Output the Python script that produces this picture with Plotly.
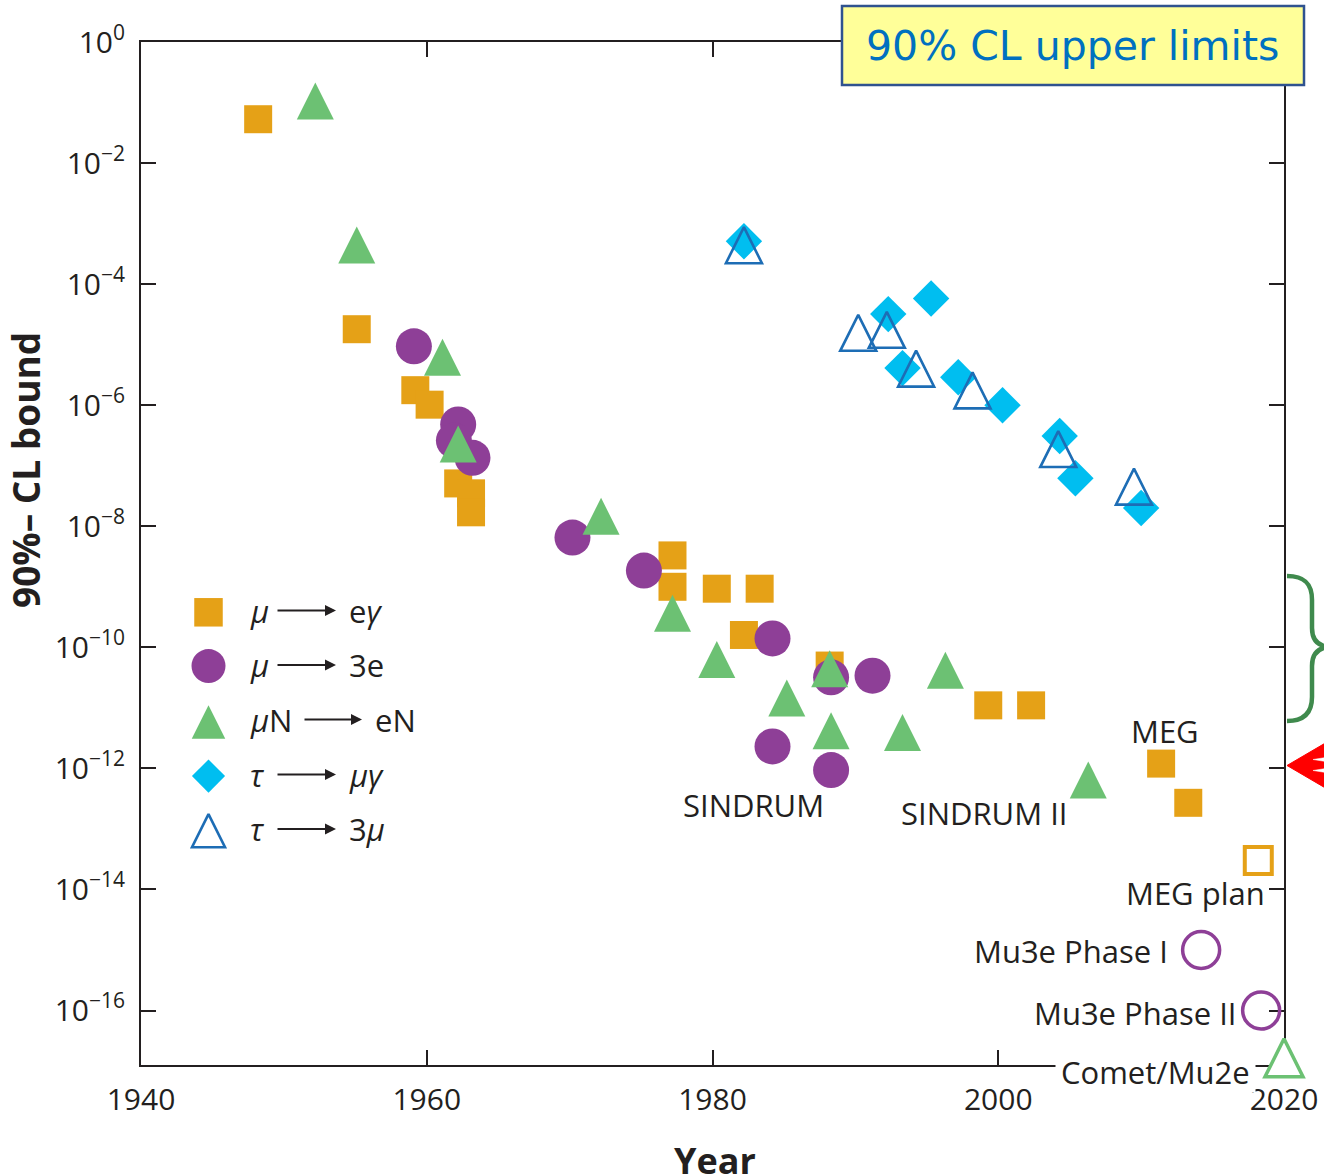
import plotly.graph_objects as go

# ---- measured 90% CL upper limits ----
# mu -> e gamma
mueg_year = [1948.2, 1955.1, 1959.2, 1960.2, 1962.2, 1963.1, 1963.1, 1977.2, 1977.2,
             1980.3, 1983.3, 1982.2, 1988.2, 1999.3, 2002.3, 2011.4, 2013.3]
mueg_bound = [5.3e-2, 1.8e-5, 1.77e-6, 1.02e-6, 5.1e-8, 3.5e-8, 1.7e-8, 3.3e-9, 1.0e-9,
              9.3e-10, 9.3e-10, 1.6e-10, 5.0e-11, 1.1e-11, 1.1e-11, 1.2e-12, 2.7e-13]

# mu -> 3e
mu3e_year = [1959.1, 1962.2, 1961.9, 1963.2, 1970.2, 1975.2, 1984.2, 1988.3, 1991.2,
             1984.2, 1988.3]
mu3e_bound = [9.4e-6, 4.8e-7, 2.6e-7, 1.35e-7, 6.5e-9, 1.85e-9, 1.4e-10, 3.2e-11, 3.4e-11,
              2.3e-12, 9.4e-13]

# mu N -> e N
muconv_year = [1952.2, 1955.1, 1961.1, 1962.2, 1972.2, 1977.2, 1980.3, 1988.2, 1996.3,
               1985.2, 1988.3, 1993.3, 2006.3]
muconv_bound = [8.4e-2, 3.5e-4, 4.9e-6, 1.8e-7, 1.16e-8, 2.9e-10, 5.0e-11, 3.5e-11, 3.3e-11,
                1.15e-11, 3.3e-12, 3.1e-12, 5.1e-13]

# tau -> mu gamma
taumg_year = [1982.2, 1992.3, 1995.3, 1993.3, 1997.2, 2000.3, 2004.3, 2005.4, 2010.0]
taumg_bound = [5.1e-4, 3.2e-5, 5.8e-5, 4.1e-6, 2.9e-6, 1.0e-6, 3.1e-7, 6.2e-8, 2.0e-8]

# tau -> 3 mu
tau3mu_year = [1982.2, 1990.2, 1992.2, 1994.25, 1998.2, 2004.2, 2009.5]
tau3mu_bound = [3.5e-4, 1.25e-5, 1.4e-5, 3.2e-6, 1.4e-6, 1.5e-7, 3.6e-8]

# ---- projected sensitivities ----
megplan_year, megplan_bound = [2018.2], [3.0e-14]
mu3e_phase1_year, mu3e_phase1_bound = [2014.2], [1.0e-15]
mu3e_phase2_year, mu3e_phase2_bound = [2018.4], [1.0e-16]
comet_year, comet_bound = [2020.0], [1.3e-17]

year_ticks = [1940, 1960, 1980, 2000, 2020]
bound_exponents = [0, -2, -4, -6, -8, -10, -12, -14, -16]
bound_ticks = [10.0 ** e for e in bound_exponents]
bound_ticktext = ["10<sup>%s</sup>" % (str(e).replace("-", "\u2212")) for e in bound_exponents]

legend_labels = [("<i>\u03bc</i>", "e<i>\u03b3</i>"),
                 ("<i>\u03bc</i>", "3e"),
                 ("<i>\u03bc</i>N", "eN"),
                 ("<i>\u03c4</i>", "<i>\u03bc\u03b3</i>"),
                 ("<i>\u03c4</i>", "3<i>\u03bc</i>")]

ORANGE = "#E5A117"
PURPLE = "#8E3F97"
GREEN = "#6CC173"
CYAN = "#00BEF0"
BLUE = "#1D6DB5"
INK = "#231F20"
FONT = "Open Sans"

# figure geometry (pixels)
W, H = 1324, 1176
ML, MR, MT, MB = 141, 40, 42, 111
PW, PH = W - ML - MR, H - MT - MB


def fx(px):
    return (px - ML) / PW


def fy(py):
    return (H - MB - py) / PH


def tri(size):
    # upright triangle, centred two thirds of the way down from the apex
    return dict(symbol="arrow-down", angle=180, standoff=size * 2.0 / 3.0, size=size)


fig = go.Figure()

fig.add_trace(go.Scatter(x=mueg_year, y=mueg_bound, mode="markers", name="mu->e gamma",
                         marker=dict(symbol="square", size=28, color=ORANGE, line=dict(width=0))))
fig.add_trace(go.Scatter(x=mu3e_year, y=mu3e_bound, mode="markers", name="mu->3e",
                         marker=dict(symbol="circle", size=36, color=PURPLE, line=dict(width=0))))
fig.add_trace(go.Scatter(x=muconv_year, y=muconv_bound, mode="markers", name="muN->eN",
                         marker=dict(**tri(37), color=GREEN, line=dict(width=0))))
fig.add_trace(go.Scatter(x=taumg_year, y=taumg_bound, mode="markers", name="tau->mu gamma",
                         marker=dict(symbol="diamond", size=28, color=CYAN, line=dict(width=0))))
fig.add_trace(go.Scatter(x=tau3mu_year, y=tau3mu_bound, mode="markers", name="tau->3mu",
                         marker=dict(**tri(36), color="rgba(0,0,0,0)",
                                     line=dict(width=2.6, color=BLUE))))

# projected sensitivities
fig.add_trace(go.Scatter(x=megplan_year, y=megplan_bound, mode="markers", cliponaxis=False,
                         marker=dict(symbol="square", size=27, color="white",
                                     line=dict(width=4, color=ORANGE))))
fig.add_trace(go.Scatter(x=mu3e_phase1_year + mu3e_phase2_year,
                         y=mu3e_phase1_bound + mu3e_phase2_bound, mode="markers", cliponaxis=False,
                         marker=dict(symbol="circle", size=37, color="rgba(0,0,0,0)",
                                     line=dict(width=3.5, color=PURPLE))))
fig.add_trace(go.Scatter(x=comet_year, y=comet_bound, mode="markers", cliponaxis=False,
                         marker=dict(**tri(38), color="white", line=dict(width=3.5, color=GREEN))))

# legend keys on an overlay axis spanning the plot area
legend_px = 208.5
legend_marker_py = [612.3, 666.1, 727.7, 776.1, 836.2]
legend_markers = [
    dict(symbol="square", size=28.5, color=ORANGE, line=dict(width=0)),
    dict(symbol="circle", size=34, color=PURPLE, line=dict(width=0)),
    dict(**tri(33.5), color=GREEN, line=dict(width=0)),
    dict(symbol="diamond", size=25.5, color=CYAN, line=dict(width=0)),
    dict(**tri(33), color="rgba(0,0,0,0)", line=dict(width=2.6, color=BLUE)),
]
for py, mk in zip(legend_marker_py, legend_markers):
    fig.add_trace(go.Scatter(x=[fx(legend_px)], y=[fy(py)], xaxis="x2", yaxis="y2",
                             mode="markers", marker=mk, showlegend=False, cliponaxis=False))

annotations = []
legend_text_py = [610.5, 665.0, 719.5, 774.5, 829.0]
for i, ((left, right), py) in enumerate(zip(legend_labels, legend_text_py)):
    wide = i == 2
    a0, a1, rx = (303, 362, 373) if wide else (276, 336, 347)
    annotations.append(dict(x=fx(248), y=fy(py), xref="paper", yref="paper", text=left,
                            showarrow=False, xanchor="left", yanchor="middle",
                            font=dict(family=FONT, size=31, color=INK)))
    annotations.append(dict(x=fx(a1), y=fy(py), xref="paper", yref="paper", text="",
                            showarrow=True, ax=a0 - a1, ay=0, arrowhead=2, arrowsize=1.1,
                            arrowwidth=2, arrowcolor=INK, standoff=0, startstandoff=0))
    annotations.append(dict(x=fx(rx), y=fy(py), xref="paper", yref="paper", text=right,
                            showarrow=False, xanchor="left", yanchor="middle",
                            font=dict(family=FONT, size=31, color=INK)))

# experiment labels
labels = [("SINDRUM", 753.8, 805), ("SINDRUM II", 983.6, 812.8), ("MEG", 1165, 730.5),
          ("MEG plan", 1195.8, 893), ("Mu3e Phase I", 1070.8, 951),
          ("Mu3e Phase II", 1135, 1013)]
for txt, px, py in labels:
    annotations.append(dict(x=fx(px), y=fy(py), xref="paper", yref="paper", text=txt,
                            showarrow=False, xanchor="center", yanchor="middle",
                            font=dict(family=FONT, size=31, color=INK)))
annotations.append(dict(x=fx(1155), y=fy(1072), xref="paper", yref="paper", text="Comet/Mu2e",
                        showarrow=False, xanchor="center", yanchor="middle", bgcolor="white",
                        height=30, borderpad=5,
                        font=dict(family=FONT, size=31, color=INK)))

# axis titles
annotations.append(dict(x=fx(26), y=fy(470), xref="paper", yref="paper",
                        text="<b>90%\u2013 CL bound</b>", textangle=-90, showarrow=False,
                        xanchor="center", yanchor="middle",
                        font=dict(family=FONT, size=37, color=INK)))
annotations.append(dict(x=fx(714.5), y=fy(1160), xref="paper", yref="paper",
                        text="<b>Year</b>", showarrow=False, xanchor="center", yanchor="middle",
                        font=dict(family=FONT, size=36, color=INK)))

# boxed caption
annotations.append(dict(x=fx(1072), y=fy(46), xref="paper", yref="paper",
                        text="90% CL upper limits", showarrow=False,
                        xanchor="center", yanchor="middle",
                        font=dict(family="DejaVu Sans", size=41, color="#0070C0")))

shapes = []
shapes.append(dict(type="rect", xref="paper", yref="paper", x0=fx(842), x1=fx(1304),
                   y0=fy(85), y1=fy(6), fillcolor="#FFFF99",
                   line=dict(color="#2F528F", width=2.5), layer="above"))


def pt(px, py):
    return "%.5f,%.5f" % (fx(px), fy(py))


# curly brace on the right edge
brace = ("M " + pt(1287, 576)
         + " C " + pt(1305, 576) + " " + pt(1312, 584) + " " + pt(1312, 600)
         + " L " + pt(1312, 628)
         + " C " + pt(1312, 640) + " " + pt(1318, 647) + " " + pt(1332, 647)
         + " C " + pt(1318, 647) + " " + pt(1312, 654) + " " + pt(1312, 666)
         + " L " + pt(1312, 697)
         + " C " + pt(1312, 712) + " " + pt(1305, 721) + " " + pt(1287, 721))
shapes.append(dict(type="path", xref="paper", yref="paper", path=brace,
                   line=dict(color="#3F8A4D", width=4.5), layer="above"))


def wedge(tip, top, bottom):
    return "M " + pt(*tip) + " L " + pt(*top) + " L " + pt(*bottom) + " Z"


# red arrow pointing at the 1e-12 level
shapes.append(dict(type="path", xref="paper", yref="paper",
                   path=wedge((1287, 765.5), (1334, 738), (1334, 793)),
                   fillcolor="#FF0000", line=dict(color="#FF0000", width=1), layer="above"))
for yy in (759.5, 770.5):
    shapes.append(dict(type="path", xref="paper", yref="paper",
                       path=wedge((1313, yy), (1332, yy - 3), (1332, yy + 3)),
                       fillcolor="white", line=dict(color="white", width=0.5), layer="above"))

axis_common = dict(showline=True, linewidth=2, linecolor=INK, mirror="ticks",
                   ticks="inside", ticklen=15, tickwidth=2, tickcolor=INK,
                   showgrid=False, zeroline=False, layer="below traces",
                   tickfont=dict(family=FONT, size=30, color=INK))

fig.update_layout(
    width=W, height=H,
    margin=dict(l=ML, r=MR, t=MT, b=MB, pad=0, autoexpand=False),
    paper_bgcolor="white", plot_bgcolor="white",
    showlegend=False,
    xaxis=dict(range=[1940, 2020], tickvals=year_ticks, ticklabelstandoff=7, **axis_common),
    yaxis=dict(type="log", range=[-16.9, 0.0], tickvals=bound_ticks, ticktext=bound_ticktext,
               ticklabelstandoff=8, **axis_common),
    xaxis2=dict(overlaying="x", range=[0, 1], visible=False),
    yaxis2=dict(overlaying="y", range=[0, 1], visible=False),
    annotations=annotations,
    shapes=shapes,
)

fig.write_html("out.html")
